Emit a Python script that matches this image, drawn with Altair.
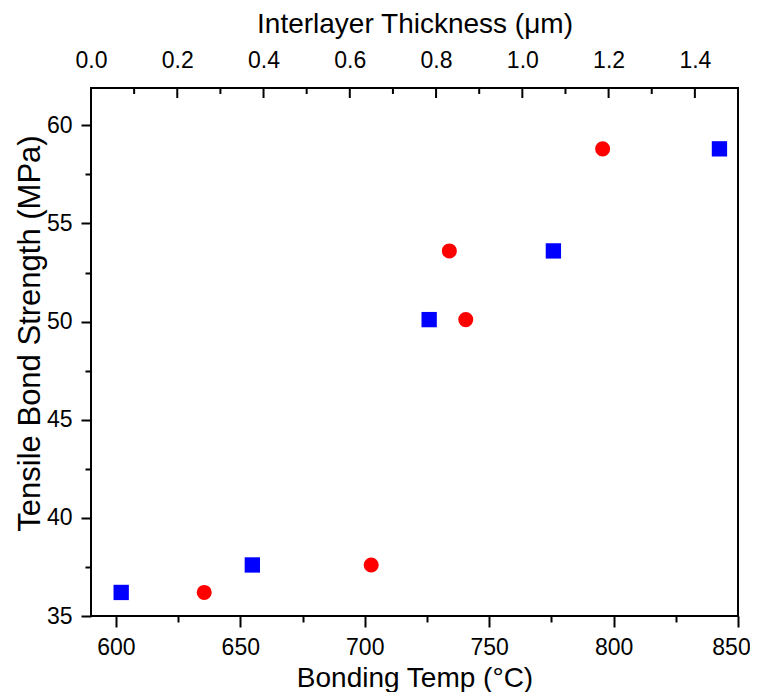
import altair as alt
import pandas as pd

# ---- data ----
temp_c = [635.5, 702.6, 734.0, 740.6, 795.6]
temp_strength = [36.2, 37.6, 53.6, 50.1, 58.8]

thick_um = [0.07, 0.374, 0.784, 1.072, 1.457]
thick_strength = [36.2, 37.6, 50.1, 53.6, 58.8]

temp_ticks = [600, 625, 650, 675, 700, 725, 750, 775, 800, 825, 850]
strength_ticks = [35, 37.5, 40, 42.5, 45, 47.5, 50, 52.5, 55, 57.5, 60]
thick_labels = [0.0, 0.2, 0.4, 0.6, 0.8, 1.0, 1.2, 1.4]
thick_major = [0.2, 0.4, 0.6, 0.8, 1.0, 1.2, 1.4]
thick_minor = [0.1, 0.3, 0.5, 0.7, 0.9, 1.1, 1.3]

FONT = "Liberation Sans"

red_df = pd.DataFrame({"temp": temp_c, "strength": temp_strength})
blue_df = pd.DataFrame({"thick": thick_um, "strength": thick_strength})
major_df = pd.DataFrame({"thick": thick_major})
minor_df = pd.DataFrame({"thick": thick_minor})

y_scale = alt.Scale(domain=[35, 61.9], nice=False, zero=False)
temp_scale = alt.Scale(domain=[590, 850], nice=False, zero=False)
thick_scale = alt.Scale(domain=[0, 1.5], nice=False, zero=False)

y_axis = alt.Axis(
    values=strength_ticks,
    labelExpr="datum.value % 5 === 0 ? datum.label : ''",
    tickSize={"condition": {"test": "datum.value % 5 === 0", "value": 10}, "value": 6},
    tickWidth=2, tickColor="black", domain=False, grid=False,
    labelFont=FONT, labelFontSize=23, labelColor="black", labelPadding=9,
    title="Tensile Bond Strength (MPa)", titleFont=FONT, titleFontSize=31,
    titleFontWeight="normal", titleColor="black",
    titleX=-61, titleY=245, titleBaseline="middle", titleAngle=270,
)

temp_axis = alt.Axis(
    orient="bottom", values=temp_ticks,
    labelExpr="datum.value % 50 === 0 ? datum.label : ''",
    tickSize={"condition": {"test": "datum.value % 50 === 0", "value": 11}, "value": 6},
    labelOffset={"condition": {"test": "datum.value === 850", "value": -7}, "value": 0},
    tickWidth=2, tickColor="black", domain=False, grid=False, labelFlush=False,
    labelFont=FONT, labelFontSize=23, labelColor="black", labelPadding=9,
    title="Bonding Temp (°C)", titleFont=FONT, titleFontSize=28,
    titleFontWeight="normal", titleColor="black",
    titleY=70, titleBaseline="alphabetic",
)

thick_axis = alt.Axis(
    orient="top", values=thick_labels, format=".1f",
    ticks=False, domain=False, grid=False, labelFlush=False,
    labelFont=FONT, labelFontSize=23, labelColor="black", labelPadding=16,
    title="Interlayer Thickness (μm)", titleFont=FONT, titleFontSize=28,
    titleFontWeight="normal", titleColor="black",
    titleY=-56, titleBaseline="alphabetic",
)

red = alt.Chart(red_df).mark_point(
    shape="circle", filled=True, size=227, color="#FF0000", opacity=1
).encode(
    x=alt.X("temp:Q", scale=temp_scale, axis=temp_axis),
    y=alt.Y("strength:Q", scale=y_scale, axis=y_axis),
)

blue = alt.Chart(blue_df).mark_point(
    shape="square", filled=True, size=235, color="#0000FF", opacity=1
).encode(
    x=alt.X("thick:Q", scale=thick_scale, axis=thick_axis),
    y=alt.Y("strength:Q", scale=y_scale),
)

major = alt.Chart(major_df).mark_rule(color="black", strokeWidth=2).encode(
    x=alt.X("thick:Q", scale=thick_scale, axis=thick_axis),
    y=alt.value(0), y2=alt.value(10),
)
minor = alt.Chart(minor_df).mark_rule(color="black", strokeWidth=2).encode(
    x=alt.X("thick:Q", scale=thick_scale, axis=thick_axis),
    y=alt.value(0), y2=alt.value(6),
)

thick_layer = alt.layer(blue, major, minor)

chart = alt.layer(red, thick_layer).resolve_scale(x="independent").properties(
    width=647, height=528,
    padding={"left": 83, "top": 80, "right": 12, "bottom": 76},
    autosize=alt.AutoSizeParams(type="none"),
    background="white",
).configure_view(stroke="black", strokeWidth=2)

chart.save("out.html", embed_options={"renderer": "svg", "actions": False})
